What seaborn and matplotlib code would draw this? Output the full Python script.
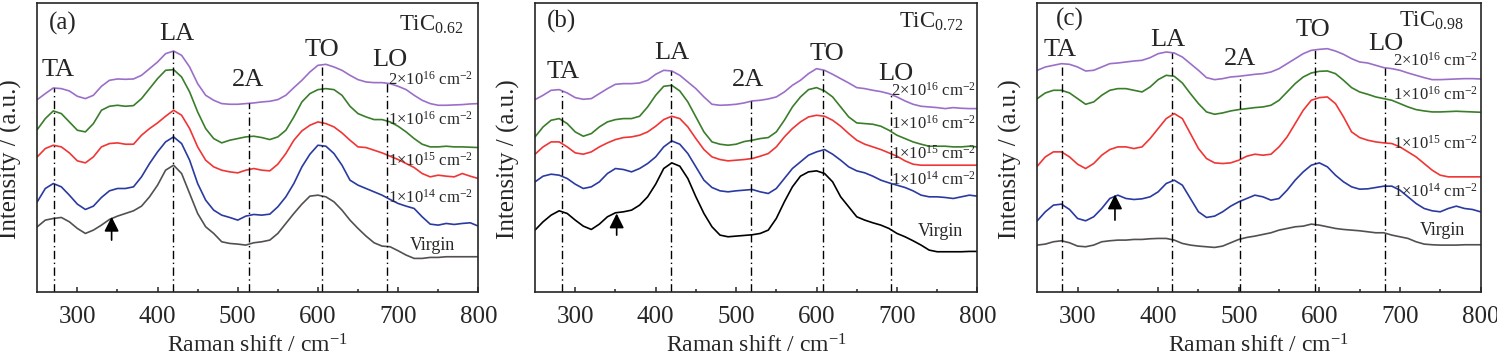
import numpy as np
import matplotlib
matplotlib.use("Agg")
import matplotlib.pyplot as plt
import seaborn as sns

# Raman shift grid (cm-1), same for all three panels
shift = np.arange(250, 801, 10)

# readings are depth below the top of the frame (picture units), converted to intensity below
TOP = 875

# ---------- (a) TiC0.62 ----------
a_2e16 = [298, 280, 263, 265, 272, 288, 295, 285, 258, 240, 236, 237, 236, 225, 205, 185, 160, 152, 165, 200,
          250, 285, 300, 310, 312, 312, 310, 308, 305, 303, 298, 285, 262, 240, 215, 195, 192, 200, 210, 225,
          238, 245, 247, 247, 250, 258, 268, 285, 300, 310, 315, 315, 314, 313, 311, 310]
a_1e16 = [388, 355, 332, 340, 365, 390, 395, 370, 330, 318, 315, 318, 316, 295, 265, 235, 210, 208, 230, 275,
          335, 385, 415, 428, 420, 415, 410, 408, 412, 418, 410, 390, 350, 305, 280, 268, 265, 268, 285, 318,
          340, 350, 358, 358, 365, 378, 395, 415, 432, 440, 440, 438, 440, 440, 441, 442]
a_1e15 = [470, 445, 435, 440, 458, 482, 488, 470, 440, 430, 428, 432, 432, 405, 385, 368, 348, 330, 345, 385,
          440, 480, 500, 510, 515, 518, 510, 505, 510, 512, 492, 460, 420, 392, 375, 365, 370, 380, 398, 420,
          440, 442, 450, 458, 468, 478, 490, 502, 520, 530, 525, 528, 530, 520, 528, 535]
a_1e14 = [605, 565, 550, 560, 585, 612, 628, 618, 592, 572, 565, 565, 560, 530, 490, 455, 425, 410, 430, 480,
          550, 600, 630, 645, 652, 660, 648, 643, 645, 642, 620, 590, 550, 500, 462, 435, 438, 460, 495, 540,
          555, 565, 575, 585, 598, 610, 618, 625, 650, 672, 675, 670, 673, 670, 668, 678]
a_virgin = [680, 660, 655, 652, 665, 685, 700, 690, 675, 658, 648, 640, 632, 618, 590, 555, 510, 495, 520, 580,
            640, 680, 700, 725, 730, 732, 735, 728, 725, 720, 700, 670, 640, 612, 588, 585, 590, 605, 630, 660,
            685, 708, 728, 738, 740, 752, 765, 775, 775, 772, 772, 770, 770, 770, 770, 770]
a_modes = [270.8, 419.2, 513.6, 605.0, 685.6]

# ---------- (b) TiC0.72 ----------
b_2e16 = [298, 285, 270, 268, 278, 292, 297, 295, 280, 265, 252, 250, 250, 248, 240, 222, 210, 212, 225, 245,
          265, 290, 312, 315, 314, 312, 308, 302, 300, 296, 290, 275, 255, 240, 220, 205, 210, 222, 235, 248,
          262, 265, 270, 274, 280, 290, 302, 312, 318, 320, 322, 325, 322, 324, 325, 325]
b_1e16 = [410, 380, 360, 355, 370, 395, 408, 400, 380, 365, 358, 355, 355, 348, 320, 285, 258, 255, 272, 305,
          350, 395, 425, 432, 435, 432, 424, 420, 415, 412, 395, 360, 320, 290, 268, 262, 272, 290, 320, 350,
          368, 370, 372, 378, 390, 405, 415, 425, 432, 438, 438, 438, 440, 440, 438, 440]
b_1e15 = [462, 440, 425, 425, 440, 458, 462, 455, 440, 428, 418, 412, 410, 405, 395, 378, 358, 348, 355, 380,
          415, 448, 470, 478, 482, 480, 478, 475, 468, 460, 440, 410, 385, 365, 350, 345, 348, 360, 378, 400,
          420, 432, 440, 448, 458, 468, 482, 492, 495, 495, 495, 495, 495, 495, 495, 495]
b_1e14 = [545, 528, 522, 525, 535, 552, 565, 560, 545, 520, 505, 508, 515, 505, 490, 470, 440, 422, 432, 460,
          500, 540, 562, 572, 575, 572, 570, 568, 575, 580, 565, 535, 505, 485, 465, 455, 448, 462, 480, 500,
          512, 518, 528, 540, 548, 555, 562, 572, 585, 590, 590, 592, 595, 590, 585, 588]
b_virgin = [690, 665, 645, 632, 640, 660, 678, 688, 672, 650, 638, 635, 630, 615, 590, 552, 505, 488, 498, 535,
            590, 640, 680, 705, 710, 708, 706, 704, 700, 690, 655, 605, 560, 528, 515, 512, 520, 545, 590, 620,
            650, 660, 668, 675, 685, 700, 710, 722, 735, 750, 755, 755, 755, 755, 754, 754]
b_modes = [283.2, 418.7, 518.1, 607.6, 693.0]

# ---------- (c) TiC0.98 ----------
c_2e16 = [210, 200, 195, 190, 192, 200, 212, 210, 200, 190, 188, 185, 182, 180, 172, 160, 155, 158, 170, 190,
          210, 232, 238, 235, 230, 228, 225, 222, 220, 215, 205, 190, 175, 160, 150, 147, 145, 152, 162, 175,
          185, 188, 195, 202, 205, 210, 218, 225, 232, 238, 238, 237, 236, 235, 235, 236]
c_1e16 = [295, 278, 270, 270, 278, 295, 312, 305, 285, 270, 265, 265, 270, 275, 260, 238, 225, 228, 248, 280,
          310, 335, 342, 338, 332, 328, 325, 322, 320, 315, 300, 275, 250, 230, 218, 213, 212, 220, 240, 262,
          275, 282, 290, 295, 300, 310, 320, 328, 332, 335, 335, 334, 333, 334, 335, 336]
c_1e15 = [498, 470, 455, 455, 470, 492, 505, 490, 465, 448, 440, 440, 445, 440, 415, 385, 355, 340, 355, 400,
          445, 475, 488, 490, 488, 480, 468, 462, 465, 462, 440, 410, 370, 330, 300, 292, 290, 310, 350, 395,
          412, 420, 425, 428, 430, 440, 455, 470, 490, 510, 525, 530, 530, 530, 530, 530]
c_1e14 = [662, 635, 615, 612, 628, 655, 662, 650, 625, 595, 585, 595, 598, 596, 590, 575, 550, 540, 555, 595,
          635, 652, 648, 635, 618, 605, 595, 585, 590, 600, 595, 570, 540, 515, 495, 488, 500, 525, 545, 560,
          567, 566, 562, 558, 558, 570, 590, 610, 625, 632, 635, 625, 618, 625, 628, 635]
c_virgin = [735, 732, 725, 722, 728, 738, 740, 735, 725, 722, 720, 720, 718, 718, 716, 715, 715, 720, 730, 735,
            738, 740, 742, 738, 728, 718, 712, 708, 703, 698, 690, 685, 680, 678, 672, 675, 680, 685, 688, 690,
            692, 695, 698, 698, 705, 710, 715, 725, 732, 734, 735, 735, 735, 734, 734, 734]
c_modes = [281.0, 417.5, 501.0, 594.9, 681.3]

mode_names = ['TA', 'LA', '2A', 'TO', 'LO']
dose_labels = ['2×10$^{16}$ cm$^{-2}$', '1×10$^{16}$ cm$^{-2}$', '1×10$^{15}$ cm$^{-2}$',
               '1×10$^{14}$ cm$^{-2}$', 'Virgin']

sns.set_theme(style='ticks')
plt.rcParams['font.family'] = ['Liberation Serif', 'DejaVu Serif']
plt.rcParams['mathtext.fontset'] = 'custom'
plt.rcParams['mathtext.rm'] = 'Liberation Serif'
plt.rcParams['mathtext.it'] = 'Liberation Serif:italic'
plt.rcParams['axes.linewidth'] = 1.2


def intensidad(lista):
    return TOP - np.array(lista, dtype=float)


def dibujar_panel(ax, curvas, colores, modos, letra, muestra, pos_texto, pos_dosis, pos_virgin, flecha):
    """Dibuja un panel de espectros Raman apilados"""
    for vals, col in zip(curvas, colores):
        sns.lineplot(x=shift, y=intensidad(vals), color=col, linewidth=1.2, ax=ax)

    # lineas verticales de los modos, desde abajo hasta la curva superior
    superior = intensidad(curvas[0])
    for xm in modos:
        ax.plot([xm, xm], [0, np.interp(xm, shift, superior)], color='black',
                linestyle=(0, (6, 2.5, 1, 2.5)), linewidth=1.0)

    for nombre, (tx, ty) in zip(mode_names, pos_texto):
        ax.text(tx, ty, nombre, fontsize=19, ha='center', va='center')

    for lab, ty in zip(dose_labels[:4], pos_dosis[1]):
        ax.text(pos_dosis[0], ty, lab, fontsize=12, ha='right', va='center')
    ax.text(pos_virgin[0], pos_virgin[1], 'Virgin', fontsize=13, ha='right', va='center')

    ax.text(letra[0], letra[1], letra[2], fontsize=18, ha='center', va='center')
    ax.text(muestra[0], muestra[1], muestra[2], fontsize=16.5, ha='center', va='center')

    ax.annotate('', xy=(flecha[0], flecha[2]), xytext=(flecha[0], flecha[1]),
                arrowprops=dict(arrowstyle='-|>', color='black', lw=1.2, mutation_scale=22,
                                shrinkA=0, shrinkB=0))

    ax.set_xlim(250, 800)
    ax.set_ylim(0, 868)
    ax.set_xticks([300, 400, 500, 600, 700, 800])
    ax.set_xticks([350, 450, 550, 650, 750], minor=True)
    ax.set_yticks([])
    ax.tick_params(axis='x', which='major', direction='in', length=3.6, width=1.1, labelsize=18, pad=10)
    ax.tick_params(axis='x', which='minor', direction='in', length=2.4, width=1.1)
    ax.set_xlabel('Raman shift / cm$^{-1}$', fontsize=17, labelpad=5)
    ax.set_ylabel('Intensity / (a.u.)', fontsize=18)
    ax.yaxis.set_label_coords(-0.034, 0.46)


fig = plt.figure(figsize=(14.97, 3.55), dpi=100)
ax_a = fig.add_axes([0.0249, 0.1783, 0.2946, 0.8140])
ax_b = fig.add_axes([0.3574, 0.1783, 0.2955, 0.8140])
ax_c = fig.add_axes([0.6929, 0.1783, 0.2961, 0.8140])

colores_a = ['#9b6fc8', '#3a7d2a', '#f03535', '#2a3aa0', '#555050']
colores_b = ['#9b6fc8', '#3a7d2a', '#f03535', '#2a3aa0', '#000000']

dibujar_panel(ax_a, [a_2e16, a_1e16, a_1e15, a_1e14, a_virgin], colores_a, a_modes,
              (282, 805, '(a)'), (742, 803, 'TiC$_{0.62}$'),
              [(276, 665), (424, 775), (513, 635), (605, 725), (690, 695)],
              (793, [638, 517, 393, 282]), (771, 140), (342.7, 155, 225))

dibujar_panel(ax_b, [b_2e16, b_1e16, b_1e15, b_1e14, b_virgin], colores_b, b_modes,
              (283, 813, '(b)'), (743, 810, 'TiC$_{0.72}$'),
              [(285, 660), (420, 717), (515, 635), (613, 715), (698, 655)],
              (798, [603, 503, 413, 335]), (782, 180), (351.5, 170, 235))

dibujar_panel(ax_c, [c_2e16, c_1e16, c_1e15, c_1e14, c_virgin], colores_a, c_modes,
              (290, 817, '(c)'), (739, 815, 'TiC$_{0.98}$'),
              [(278, 725), (412, 757), (502, 700), (592, 787), (682, 745)],
              (797, [695, 592, 443, 300]), (781, 183), (346.4, 215, 292))

fig.savefig('out.png', dpi=100)
plt.close()
